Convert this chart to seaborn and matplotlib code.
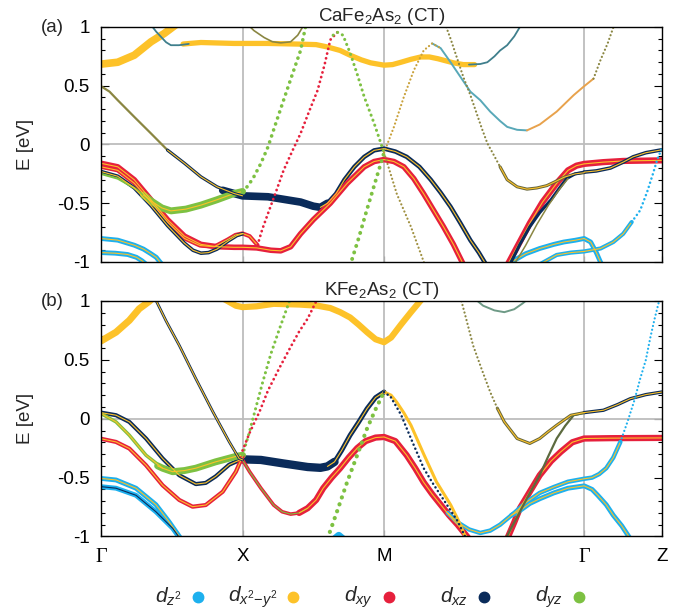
import numpy as np
import pandas as pd
import seaborn as sns
import matplotlib.pyplot as plt
from matplotlib.ticker import MultipleLocator, FixedLocator, FixedFormatter
from matplotlib.lines import Line2D

sns.set_theme(style="white")
plt.rcParams['font.family'] = ['Liberation Sans', 'DejaVu Sans']
plt.rcParams['mathtext.fontset'] = 'custom'
plt.rcParams['mathtext.rm'] = 'Liberation Sans'
plt.rcParams['mathtext.it'] = 'Liberation Sans:italic'
plt.rcParams['mathtext.bf'] = 'Liberation Sans:bold'

# ---------------- path / labels ----------------
K_TICKS = [0.0, 1.0, 2.0, 3.414, 3.964]
K_LABELS = ["Γ", "X", "M", "Γ", "Z"]
E_TICKS = [-1, -0.5, 0, 0.5, 1]
E_LABELS = ["-1", "-0.5", "0", "0.5", "1"]
TITLES = [r"CaFe$_2$As$_2$ (CT)", r"KFe$_2$As$_2$ (CT)"]
PANEL_TAGS = ["(a)", "(b)"]
ORBITALS = [r"$d_{z^2}$", r"$d_{x^2\mathrm{-}y^2}$", r"$d_{xy}$", r"$d_{xz}$", r"$d_{yz}$"]

CYAN = '#1DB0EE'; YEL = '#FDC229'; RED = '#E6203C'; NAVY = '#0A2B5A'; GREEN = '#7DC142'
OLIVE = '#8A8642'; TEAL = '#3F7F8C'; ORANGE = '#E8A24C'; DOLIVE = '#65653A'
ORB_COLORS = [CYAN, YEL, RED, NAVY, GREEN]

# ---------------- panel (a) CaFe2As2 ----------------
A_x2y2_G_k = [0, 0.118, 0.235, 0.353, 0.447, 0.53]
A_x2y2_G_E = [0.684, 0.70, 0.76, 0.874, 0.945, 1.02]
A_top_teal_k = [0.345, 0.39, 0.424, 0.46, 0.494, 0.55, 0.62]
A_top_teal_E = [1.03, 0.96, 0.916, 0.87, 0.845, 0.845, 0.856]
A_flat_k = [0.58, 0.706, 0.94, 1.18, 1.41, 1.52, 1.6, 1.69, 1.76, 1.84, 1.905, 2.0, 2.06, 2.12, 2.19, 2.26, 2.32, 2.38, 2.49, 2.56, 2.64]
A_flat_E = [0.855, 0.868, 0.86, 0.86, 0.854, 0.85, 0.83, 0.80, 0.76, 0.72, 0.695, 0.675, 0.68, 0.70, 0.725, 0.745, 0.745, 0.73, 0.695, 0.68, 0.68]
A_flat_end_k = [2.60, 2.68, 2.73, 2.78, 2.82, 2.87, 2.92, 2.97]
A_flat_end_E = [0.68, 0.685, 0.70, 0.75, 0.80, 0.845, 0.92, 1.02]
A_vX_k = [1.03, 1.08, 1.153, 1.21, 1.27, 1.34, 1.39, 1.44]
A_vX_E = [1.03, 0.97, 0.91, 0.875, 0.865, 0.874, 0.93, 1.03]
A_olive_k = [0, 0.06, 0.118, 0.235, 0.353, 0.47, 0.53]
A_olive_E = [0.496, 0.45, 0.377, 0.235, 0.094, -0.048, -0.105]
A_xz_in_k = [0.47, 0.59, 0.706, 0.82, 0.94, 1.0]
A_xz_in_E = [-0.048, -0.16, -0.275, -0.36, -0.417, -0.437]
A_xz_thick_k = [0.86, 0.94, 1.0, 1.18, 1.41, 1.5, 1.55, 1.6]
A_xz_thick_E = [-0.39, -0.417, -0.437, -0.445, -0.49, -0.525, -0.535, -0.50]
A_xz_M_k = [1.55, 1.6, 1.66, 1.72, 1.79, 1.86, 1.93, 2.0, 2.08, 2.16, 2.25, 2.33, 2.40, 2.47, 2.54, 2.61, 2.67, 2.72]
A_xz_M_E = [-0.535, -0.50, -0.42, -0.30, -0.19, -0.105, -0.05, -0.035, -0.06, -0.105, -0.19, -0.30, -0.41, -0.53, -0.67, -0.815, -0.92, -1.02]
A_xy_P_k = [0, 0.118, 0.235, 0.353, 0.47, 0.59, 0.706, 0.82, 0.94, 1.0, 1.1, 1.2, 1.27, 1.34, 1.41, 1.5, 1.62, 1.74, 1.86, 1.93, 2.0, 2.07, 2.14, 2.21, 2.28, 2.35, 2.42, 2.49, 2.56]
A_xy_P_E = [-0.16, -0.19, -0.30, -0.47, -0.64, -0.78, -0.85, -0.87, -0.875, -0.875, -0.88, -0.9, -0.905, -0.87, -0.76, -0.64, -0.50, -0.33, -0.19, -0.145, -0.128, -0.145, -0.19, -0.29, -0.42, -0.56, -0.70, -0.85, -1.02]
A_xy_R_k = [0, 0.118, 0.235, 0.353, 0.47, 0.59, 0.7, 0.8, 0.894, 0.95, 1.0, 1.05, 1.106]
A_xy_R_E = [-0.19, -0.22, -0.33, -0.49, -0.66, -0.80, -0.86, -0.87, -0.81, -0.77, -0.757, -0.78, -0.857]
A_xz_Q_k = [0, 0.118, 0.235, 0.353, 0.47, 0.59, 0.65, 0.706, 0.76, 0.82, 0.9, 0.96, 1.0]
A_xz_Q_E = [-0.23, -0.27, -0.37, -0.52, -0.69, -0.84, -0.9, -0.925, -0.92, -0.89, -0.82, -0.775, -0.76]
A_xy_dot_k = [1.106, 1.14, 1.18, 1.24, 1.29, 1.35, 1.41, 1.47, 1.53, 1.58, 1.62, 1.67]
A_xy_dot_E = [-0.857, -0.72, -0.587, -0.39, -0.22, -0.06, 0.094, 0.28, 0.46, 0.68, 0.89, 0.955]
A_hump_k = [1.64, 1.67, 1.71, 1.76, 1.81, 1.86, 1.93, 2.0]
A_hump_E = [0.93, 0.955, 0.93, 0.78, 0.6, 0.405, 0.18, -0.07]
A_Mdown_k = [2.0, 2.09, 2.19, 2.29]
A_Mdown_E = [-0.07, -0.42, -0.70, -1.03]
A_yz_G_k = [0, 0.118, 0.235, 0.353]
A_yz_G_E = [-0.25, -0.29, -0.37, -0.48]
A_yz_thick_k = [0.3, 0.353, 0.43, 0.494, 0.6, 0.706, 0.82, 0.94, 1.0]
A_yz_thick_E = [-0.43, -0.48, -0.54, -0.565, -0.55, -0.516, -0.47, -0.417, -0.40]
A_yz_up_k = [1.0, 1.04, 1.08, 1.13, 1.18, 1.235, 1.29, 1.35, 1.41, 1.45]
A_yz_up_E = [-0.40, -0.35, -0.275, -0.16, -0.02, 0.18, 0.377, 0.59, 0.80, 1.03]
A_yz_M_k = [1.76, 1.82, 1.88, 1.94, 2.0]
A_yz_M_E = [-1.03, -0.80, -0.55, -0.31, -0.07]
A_Mhump_k = [2.0, 2.07, 2.14, 2.21, 2.28, 2.34, 2.40]
A_Mhump_E = [-0.07, 0.15, 0.405, 0.63, 0.80, 0.86, 0.82]
A_Uleft_k = [2.34, 2.40, 2.47, 2.54, 2.61, 2.68, 2.75, 2.82, 2.87, 2.94, 3.01]
A_Uleft_E = [0.86, 0.82, 0.70, 0.575, 0.45, 0.377, 0.28, 0.20, 0.15, 0.125, 0.12]
A_Uright_k = [3.01, 3.1, 3.22, 3.34, 3.414, 3.48]
A_Uright_E = [0.12, 0.17, 0.28, 0.42, 0.496, 0.56]
A_Utop_k = [3.48, 3.53, 3.58, 3.63]
A_Utop_E = [0.56, 0.72, 0.86, 1.03]
A_odot_k = [2.43, 2.47, 2.52, 2.56, 2.61, 2.65, 2.69, 2.73, 2.78, 2.82]
A_odot_E = [1.03, 0.90, 0.72, 0.575, 0.42, 0.28, 0.14, 0.01, -0.10, -0.19]
A_omin_k = [2.82, 2.87, 2.94, 3.01, 3.08, 3.15, 3.22, 3.27, 3.35, 3.414]
A_omin_E = [-0.19, -0.30, -0.36, -0.38, -0.37, -0.35, -0.31, -0.28, -0.25, -0.24]
A_xz_G2_k = [2.89, 2.96, 3.03, 3.1, 3.18, 3.24, 3.29, 3.35, 3.414]
A_xz_G2_E = [-1.02, -0.85, -0.70, -0.58, -0.47, -0.37, -0.29, -0.25, -0.235]
A_orise_k = [2.92, 3.0, 3.08, 3.16, 3.24, 3.3]
A_orise_E = [-1.02, -0.86, -0.68, -0.52, -0.38, -0.29]
A_xz_Z_k = [3.414, 3.5, 3.6, 3.69, 3.76, 3.85, 3.964]
A_xz_Z_E = [-0.235, -0.225, -0.20, -0.15, -0.105, -0.07, -0.045]
A_xy_Z_k = [2.87, 2.95, 3.03, 3.12, 3.22, 3.3, 3.36, 3.414, 3.55, 3.69, 3.964]
A_xy_Z_E = [-1.03, -0.85, -0.67, -0.49, -0.33, -0.22, -0.18, -0.165, -0.15, -0.14, -0.135]
A_z2_G2a_k = [2.9, 3.0, 3.1, 3.2, 3.27, 3.35, 3.414, 3.46, 3.5, 3.54]
A_z2_G2a_E = [-1.0, -0.93, -0.885, -0.85, -0.83, -0.815, -0.80, -0.83, -0.92, -1.03]
A_z2_G2b_k = [3.1, 3.22, 3.32, 3.414, 3.53, 3.62, 3.69, 3.75]
A_z2_G2b_E = [-1.02, -0.94, -0.92, -0.91, -0.885, -0.83, -0.76, -0.66]
A_z2_Z_k = [3.75, 3.81, 3.86, 3.9, 3.93, 3.964]
A_z2_Z_E = [-0.66, -0.56, -0.40, -0.25, -0.13, -0.03]
A_z2_G1_k = [0, 0.118, 0.235, 0.3, 0.353, 0.39, 0.43]
A_z2_G1_E = [-0.80, -0.814, -0.857, -0.89, -0.93, -0.96, -1.02]
A_z2_G1b_k = [0, 0.1, 0.188, 0.25, 0.29, 0.32]
A_z2_G1b_E = [-0.92, -0.925, -0.936, -0.96, -0.99, -1.02]

# ---------------- panel (b) KFe2As2 ----------------
B_x2y2_G_k = [0, 0.106, 0.2, 0.27, 0.34, 0.37]
B_x2y2_G_E = [0.66, 0.735, 0.835, 0.934, 0.996, 1.03]
B_x2y2_XM_k = [0.85, 0.953, 1.0, 1.1, 1.22, 1.4, 1.53, 1.62, 1.69, 1.76, 1.82, 1.88, 1.94, 2.0, 2.05, 2.12, 2.19, 2.27]
B_x2y2_XM_E = [1.03, 0.96, 0.948, 0.955, 0.976, 0.97, 0.96, 0.94, 0.905, 0.86, 0.80, 0.735, 0.675, 0.65, 0.69, 0.80, 0.905, 1.02]
B_xz_line_k = [0.37, 0.46, 0.553, 0.67, 0.79, 0.906, 0.976, 1.0]
B_xz_line_E = [1.05, 0.83, 0.623, 0.34, 0.06, -0.196, -0.338, -0.35]
B_xz_flat_k = [0.97, 1.0, 1.13, 1.29, 1.46, 1.55, 1.6, 1.65]
B_xz_flat_E = [-0.34, -0.345, -0.35, -0.38, -0.41, -0.417, -0.405, -0.366]
B_xz_toM_k = [1.6, 1.65, 1.7, 1.76, 1.82, 1.88, 1.94, 2.0]
B_xz_toM_E = [-0.405, -0.366, -0.27, -0.14, -0.03, 0.086, 0.18, 0.227]
B_xz_Mdown_k = [2.0, 2.047, 2.12, 2.19, 2.28, 2.34, 2.40, 2.46, 2.52, 2.58]
B_xz_Mdown_E = [0.227, 0.185, 0.034, -0.168, -0.42, -0.54, -0.65, -0.76, -0.87, -1.02]
B_xz_G_k = [0, 0.106, 0.2, 0.318, 0.435, 0.553, 0.67, 0.74, 0.81, 0.906, 1.0]
B_xz_G_E = [0.052, 0.03, -0.027, -0.168, -0.337, -0.48, -0.555, -0.545, -0.49, -0.39, -0.34]
B_yz_G_k = [0, 0.106, 0.2, 0.318, 0.435]
B_yz_G_E = [0.044, -0.027, -0.14, -0.31, -0.42]
B_yz_thick_k = [0.4, 0.435, 0.506, 0.59, 0.67, 0.81, 0.953, 1.0]
B_yz_thick_E = [-0.40, -0.42, -0.45, -0.44, -0.42, -0.366, -0.32, -0.31]
B_yz_up_k = [1.0, 1.04, 1.08, 1.14, 1.2, 1.26, 1.32, 1.34]
B_yz_up_E = [-0.31, -0.15, 0.03, 0.3, 0.55, 0.76, 0.96, 1.03]
B_xy_G_k = [0, 0.106, 0.2, 0.318, 0.435, 0.553, 0.647, 0.74, 0.86, 0.953, 1.0]
B_xy_G_E = [-0.17, -0.197, -0.253, -0.395, -0.565, -0.69, -0.747, -0.733, -0.62, -0.45, -0.32]
B_xy_up_k = [1.0, 1.05, 1.12, 1.18, 1.26, 1.34, 1.40, 1.46, 1.53]
B_xy_up_E = [-0.27, -0.12, 0.06, 0.24, 0.43, 0.61, 0.74, 0.85, 1.02]
B_xy_XM_k = [1.0, 1.05, 1.13, 1.22, 1.28, 1.34, 1.40, 1.46]
B_xy_XM_E = [-0.35, -0.45, -0.59, -0.733, -0.79, -0.81, -0.80, -0.76]
B_xy_M_k = [1.40, 1.46, 1.52, 1.57, 1.63, 1.69, 1.75, 1.81, 1.87, 1.94, 2.0, 2.08, 2.16, 2.22, 2.28, 2.34, 2.40, 2.46, 2.52, 2.6]
B_xy_M_E = [-0.80, -0.76, -0.69, -0.59, -0.50, -0.42, -0.33, -0.25, -0.19, -0.16, -0.155, -0.19, -0.31, -0.42, -0.54, -0.64, -0.73, -0.82, -0.90, -1.02]
B_yz_toM_k = [1.6, 1.67, 1.74, 1.81, 1.88, 1.94, 2.0]
B_yz_toM_E = [-1.02, -0.78, -0.535, -0.31, -0.083, 0.08, 0.227]
B_x2y2_Mdown_k = [2.0, 2.05, 2.09, 2.14, 2.19, 2.28, 2.37, 2.47, 2.52, 2.58]
B_x2y2_Mdown_E = [0.227, 0.2, 0.14, 0.05, -0.055, -0.30, -0.535, -0.73, -0.85, -1.02]
B_Udot_k = [2.54, 2.58, 2.63, 2.69, 2.75, 2.8]
B_Udot_E = [1.03, 0.85, 0.62, 0.42, 0.227, 0.09]
B_U_k = [2.8, 2.85, 2.94, 3.03, 3.1, 3.16, 3.22, 3.32, 3.414]
B_U_E = [0.09, -0.027, -0.168, -0.21, -0.168, -0.11, -0.055, 0.03, 0.052]
B_UZ_k = [3.414, 3.55, 3.65, 3.74, 3.85, 3.964]
B_UZ_E = [0.052, 0.072, 0.12, 0.17, 0.205, 0.227]
B_hump_k = [2.63, 2.7, 2.78, 2.85, 2.92, 2.98, 3.03]
B_hump_E = [1.03, 0.96, 0.92, 0.905, 0.93, 0.98, 1.03]
B_rise_k = [2.86, 2.92, 2.96, 3.03, 3.1, 3.16, 3.22, 3.28, 3.34, 3.414]
B_rise_E = [-1.02, -0.88, -0.79, -0.63, -0.48, -0.32, -0.168, -0.06, 0.03, 0.05]
B_xy_Z_k = [2.87, 2.92, 2.96, 3.03, 3.1, 3.18, 3.25, 3.33, 3.414, 3.6, 3.964]
B_xy_Z_E = [-1.02, -0.88, -0.76, -0.62, -0.48, -0.36, -0.28, -0.2, -0.168, -0.165, -0.163]
B_z2_C_k = [2.45, 2.52, 2.6, 2.68, 2.75, 2.82, 2.92, 3.01, 3.1, 3.2, 3.3, 3.414, 3.47, 3.52, 3.57, 3.62, 3.67]
B_z2_C_E = [-0.80, -0.88, -0.94, -0.97, -0.95, -0.90, -0.80, -0.705, -0.63, -0.58, -0.535, -0.51, -0.50, -0.47, -0.42, -0.33, -0.197]
B_z2_Cdot_k = [3.67, 3.72, 3.77, 3.81, 3.85, 3.88, 3.91, 3.95]
B_z2_Cdot_E = [-0.197, -0.027, 0.16, 0.34, 0.5, 0.68, 0.84, 1.03]
B_z2_D_k = [2.9, 2.96, 3.03, 3.1, 3.2, 3.3, 3.414, 3.47, 3.51, 3.57, 3.62, 3.68, 3.74]
B_z2_D_E = [-0.82, -0.78, -0.72, -0.68, -0.63, -0.59, -0.57, -0.6, -0.65, -0.73, -0.82, -0.91, -1.02]
B_z2_G1_k = [0, 0.106, 0.247, 0.388, 0.48, 0.565]
B_z2_G1_E = [-0.507, -0.52, -0.59, -0.73, -0.874, -1.02]
B_z2_G2_k = [0, 0.106, 0.247, 0.388, 0.506, 0.56]
B_z2_G2_E = [-0.577, -0.59, -0.65, -0.79, -0.93, -1.02]
B_z2_blob_k = [1.64, 1.68, 1.72]
B_z2_blob_E = [-1.03, -0.99, -1.03]

# style table: (k, E, colour, linewidth, linestyle, core colour, zorder)
PANEL_A = [
    (A_x2y2_G_k, A_x2y2_G_E, YEL, 5.5, '-', None, 3),
    (A_top_teal_k, A_top_teal_E, TEAL, 1.3, '-', None, 4),
    (A_flat_k, A_flat_E, YEL, 3.8, '-', None, 3),
    (A_flat_end_k, A_flat_end_E, TEAL, 1.3, '-', None, 4),
    (A_vX_k, A_vX_E, OLIVE, 1.2, '-', None, 4),
    (A_olive_k, A_olive_E, OLIVE, 1.6, '-', None, 4),
    (A_xz_in_k, A_xz_in_E, NAVY, 2.3, '-', YEL, 4),
    (A_xz_thick_k, A_xz_thick_E, NAVY, 5.5, '-', None, 3),
    (A_xz_M_k, A_xz_M_E, NAVY, 3.2, '-', YEL, 3),
    (A_xy_P_k, A_xy_P_E, RED, 4.0, '-', YEL, 3),
    (A_xy_R_k, A_xy_R_E, RED, 3.0, '-', YEL, 3),
    (A_xz_Q_k, A_xz_Q_E, NAVY, 2.6, '-', YEL, 3),
    (A_yz_G_k, A_yz_G_E, GREEN, 1.6, '-', None, 3),
    (A_yz_thick_k, A_yz_thick_E, GREEN, 5.0, '-', YEL, 3),
    (A_yz_up_k, A_yz_up_E, GREEN, 2.6, 'dot', None, 5),
    (A_xy_dot_k, A_xy_dot_E, RED, 2.0, 'dot', None, 5),
    (A_hump_k, A_hump_E, GREEN, 2.2, 'dot', None, 5),
    (A_Mdown_k, A_Mdown_E, '#A09040', 1.6, 'dot', None, 5),
    (A_yz_M_k, A_yz_M_E, GREEN, 2.8, 'dot', None, 5),
    (A_Mhump_k, A_Mhump_E, '#C9A13A', 1.6, 'dot', None, 5),
    (A_Uleft_k, A_Uleft_E, '#58A8B8', 1.4, '-', None, 4),
    (A_Uright_k, A_Uright_E, ORANGE, 1.4, '-', None, 4),
    (A_Utop_k, A_Utop_E, OLIVE, 1.6, 'dot', None, 5),
    (A_odot_k, A_odot_E, OLIVE, 1.6, 'dot', None, 5),
    (A_omin_k, A_omin_E, DOLIVE, 2.2, '-', YEL, 4),
    (A_xz_G2_k, A_xz_G2_E, NAVY, 2.2, '-', None, 4),
    (A_orise_k, A_orise_E, OLIVE, 1.1, '-', None, 4),
    (A_xz_Z_k, A_xz_Z_E, NAVY, 2.6, '-', YEL, 4),
    (A_xy_Z_k, A_xy_Z_E, RED, 4.5, '-', YEL, 3),
    (A_z2_G2a_k, A_z2_G2a_E, CYAN, 3.5, '-', YEL, 3),
    (A_z2_G2b_k, A_z2_G2b_E, CYAN, 3.0, '-', YEL, 3),
    (A_z2_Z_k, A_z2_Z_E, CYAN, 1.8, 'dot', None, 5),
    (A_z2_G1_k, A_z2_G1_E, CYAN, 3.5, '-', YEL, 3),
    (A_z2_G1b_k, A_z2_G1b_E, CYAN, 3.5, '-', YEL, 3),
]

PANEL_B = [
    (B_x2y2_G_k, B_x2y2_G_E, YEL, 5.0, '-', None, 3),
    (B_x2y2_XM_k, B_x2y2_XM_E, YEL, 4.5, '-', None, 3),
    (B_xz_line_k, B_xz_line_E, NAVY, 2.0, '-', YEL, 4),
    (B_xz_flat_k, B_xz_flat_E, NAVY, 6.0, '-', None, 3),
    (B_xz_toM_k, B_xz_toM_E, NAVY, 3.5, '-', YEL, 3),
    (B_xz_Mdown_k, B_xz_Mdown_E, NAVY, 1.8, 'dot', None, 5),
    (B_xz_G_k, B_xz_G_E, NAVY, 3.0, '-', YEL, 3),
    (B_yz_G_k, B_yz_G_E, GREEN, 2.5, '-', YEL, 3),
    (B_yz_thick_k, B_yz_thick_E, GREEN, 5.0, '-', YEL, 3),
    (B_yz_up_k, B_yz_up_E, GREEN, 2.2, 'dot', None, 5),
    (B_xy_G_k, B_xy_G_E, RED, 3.0, '-', YEL, 3),
    (B_xy_up_k, B_xy_up_E, RED, 2.0, 'dot', None, 5),
    (B_xy_XM_k, B_xy_XM_E, RED, 2.6, '-', GREEN, 3),
    (B_xy_M_k, B_xy_M_E, RED, 4.5, '-', YEL, 3),
    (B_yz_toM_k, B_yz_toM_E, GREEN, 3.0, 'dot', None, 5),
    (B_x2y2_Mdown_k, B_x2y2_Mdown_E, YEL, 2.2, '-', None, 4),
    (B_Udot_k, B_Udot_E, OLIVE, 1.6, 'dot', None, 5),
    (B_U_k, B_U_E, DOLIVE, 2.2, '-', YEL, 4),
    (B_UZ_k, B_UZ_E, NAVY, 2.4, '-', YEL, 4),
    (B_hump_k, B_hump_E, '#6E9A86', 1.4, '-', None, 4),
    (B_rise_k, B_rise_E, '#5C6A3E', 1.6, '-', None, 4),
    (B_xy_Z_k, B_xy_Z_E, RED, 4.5, '-', YEL, 3),
    (B_z2_C_k, B_z2_C_E, CYAN, 3.2, '-', YEL, 3),
    (B_z2_Cdot_k, B_z2_Cdot_E, CYAN, 1.6, 'dot', None, 5),
    (B_z2_D_k, B_z2_D_E, CYAN, 3.5, '-', YEL, 3),
    (B_z2_G1_k, B_z2_G1_E, CYAN, 3.5, '-', YEL, 3),
    (B_z2_G2_k, B_z2_G2_E, CYAN, 3.5, '-', NAVY, 3),
    (B_z2_blob_k, B_z2_blob_E, CYAN, 5.0, '-', None, 3),
]

FS = 13.5

def draw_band(ax, k, E, color, lw, ls, core, z):
    df = pd.DataFrame({"k": k, "E": E})
    if ls == 'dot':
        sns.lineplot(data=df, x="k", y="E", ax=ax, color=color, linewidth=lw,
                     linestyle=(0, (0.05, 1.7)), dash_capstyle='round',
                     sort=False, estimator=None, zorder=z)
    else:
        sns.lineplot(data=df, x="k", y="E", ax=ax, color=color, linewidth=lw,
                     solid_capstyle='round', solid_joinstyle='round',
                     sort=False, estimator=None, zorder=z)
        if core is not None:
            sns.lineplot(data=df, x="k", y="E", ax=ax, color=core, linewidth=0.8,
                         solid_capstyle='round', solid_joinstyle='round',
                         sort=False, estimator=None, zorder=z + 0.5)


fig = plt.figure(figsize=(6.9, 6.12), dpi=100)
ax_a = fig.add_axes([0.1464, 0.5719, 0.813, 0.384])
ax_b = fig.add_axes([0.1464, 0.1234, 0.813, 0.3848])

for i, (ax, bands) in enumerate([(ax_a, PANEL_A), (ax_b, PANEL_B)]):
    for (k, E, c, lw, ls, core, z) in bands:
        draw_band(ax, k, E, c, lw, ls, core, z)
    ax.set_xlim(K_TICKS[0], K_TICKS[-1])
    ax.set_ylim(-1, 1)
    for kx in K_TICKS[1:4]:
        ax.axvline(kx, color='#BDBDBD', lw=1.3, zorder=1)
    ax.axhline(0, color='#BDBDBD', lw=1.3, zorder=1)
    ax.set_xlabel("")
    ax.set_ylabel("E [eV]", fontsize=FS)
    ax.yaxis.set_label_coords(-0.12, 0.5)
    ax.yaxis.set_major_locator(FixedLocator(E_TICKS))
    ax.yaxis.set_major_formatter(FixedFormatter(E_LABELS))
    ax.yaxis.set_minor_locator(MultipleLocator(0.1))
    ax.tick_params(axis='y', which='both', direction='in', left=True, right=True,
                   labelsize=FS, pad=8, width=0.8, colors='black')
    ax.tick_params(axis='y', which='major', length=6)
    ax.tick_params(axis='y', which='minor', length=3)
    ax.set_xticks(K_TICKS)
    ax.tick_params(axis='x', which='major', direction='in', bottom=True, length=4,
                   width=0.8, labelsize=FS, pad=8, colors='black')
    for sp in ax.spines.values():
        sp.set_color('black')
        sp.set_linewidth(1.0)
        sp.set_zorder(10)
    ax.set_title(TITLES[i], fontsize=FS, pad=4)
    ax.set_facecolor('white')

ax_a.set_xticklabels([])
ax_b.set_xticklabels(K_LABELS)
for lbl in ax_b.get_xticklabels():
    if lbl.get_text() == "Γ":
        lbl.set_fontfamily(['Liberation Serif', 'DejaVu Serif'])
        lbl.set_fontsize(FS + 1)

fig.text(52 / 690, 1 - 28 / 612, PANEL_TAGS[0], ha='center', va='center', fontsize=FS)
fig.text(52 / 690, 1 - 302 / 612, PANEL_TAGS[1], ha='center', va='center', fontsize=FS)

# legend row (label then coloured dot)
leg_y = 1 - 597 / 612
for j, (lab, col) in enumerate(zip(ORBITALS, ORB_COLORS)):
    dot_x = (198 + j * 95.3) / 690
    fig.text(dot_x - 16 / 690, leg_y, lab, ha='right', va='center', fontsize=FS + 1.5)
    fig.add_artist(Line2D([dot_x], [leg_y], marker='o', markersize=7.5, color=col,
                          linestyle='none', transform=fig.transFigure))

fig.savefig("out.png", dpi=100, facecolor='white')
